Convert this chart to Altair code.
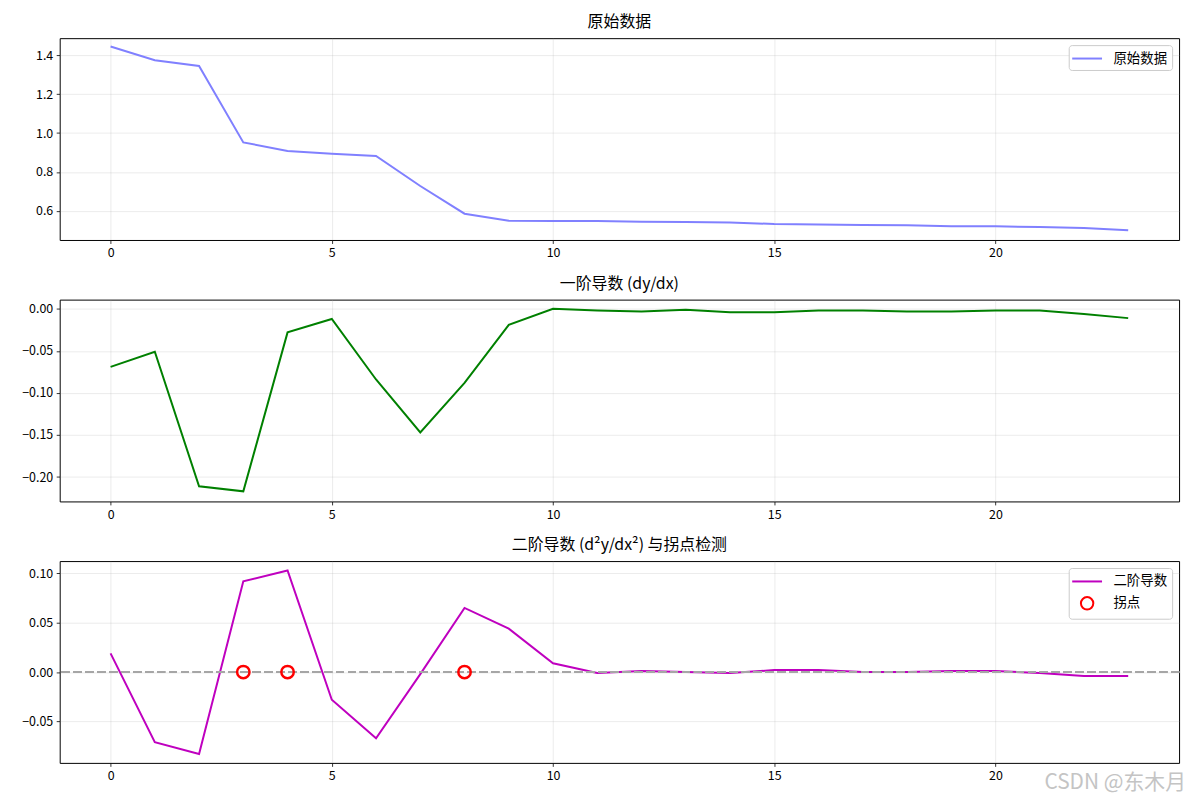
import pandas as pd
import altair as alt

# values
x_idx = [0, 1, 2, 3, 4, 5, 6, 7, 8, 9, 10, 11, 12, 13, 14, 15, 16, 17, 18, 19, 20, 21, 22, 23]
raw_vals = [1.444, 1.374, 1.344, 0.952, 0.908, 0.894, 0.882, 0.728, 0.586, 0.550, 0.549, 0.549,
            0.545, 0.543, 0.541, 0.533, 0.531, 0.528, 0.526, 0.522, 0.521, 0.517, 0.512, 0.501]
d1_vals = [-0.069, -0.051, -0.211, -0.217, -0.028, -0.012, -0.084, -0.147, -0.088, -0.019, 0.000, -0.002,
           -0.003, -0.001, -0.004, -0.004, -0.002, -0.002, -0.003, -0.003, -0.002, -0.002, -0.006, -0.011]
d2_vals = [0.019, -0.071, -0.083, 0.092, 0.103, -0.028, -0.067, -0.002, 0.065, 0.044, 0.009, -0.001,
           0.001, 0.000, -0.001, 0.002, 0.002, 0.000, 0.000, 0.001, 0.001, -0.001, -0.004, -0.004]
infl_x = [3, 4, 8]
infl_y = [0.0, 0.0, 0.0]

titles = ['原始数据', '一阶导数 (dy/dx)', '二阶导数 (d²y/dx²) 与拐点检测']
legend3 = ['二阶导数', '拐点']
x_ticks = [0, 5, 10, 15, 20]
watermark = 'CSDN @东木月'

FONT = 'Noto Sans CJK SC'
W, H = 1126, 203
LINE_SYM = 'M-2,0L2,0'  # legend line sample, 30px at size 225

df = pd.DataFrame({'x': x_idx, 'raw': raw_vals, 'd1': d1_vals, 'd2': d2_vals})
df['s1'] = '原始数据'
pts = pd.DataFrame({'x': infl_x, 'y': infl_y, 'kind': '拐点'})


def xenc():
    return alt.X('x:Q', scale=alt.Scale(domain=[-1.15, 24.15], nice=False, zero=False),
                 axis=alt.Axis(values=x_ticks, format='d', title=None))


def yscale(lo, hi):
    return alt.Scale(domain=[lo, hi], nice=False, zero=False)


#%% panel 1
p1 = alt.Chart(df, title=titles[0]).mark_line(strokeWidth=2).encode(
    x=xenc(),
    y=alt.Y('raw:Q', scale=yscale(0.451, 1.487),
            axis=alt.Axis(values=[0.6, 0.8, 1.0, 1.2, 1.4], format='.1f', title=None)),
    color=alt.Color('s1:N', scale=alt.Scale(domain=['原始数据'], range=['#8080ff']),
                    legend=alt.Legend(title=None, symbolType=LINE_SYM, symbolSize=225))
).properties(width=W, height=H)

#%% panel 2
p2 = alt.Chart(df, title=titles[1]).mark_line(strokeWidth=2, color='#008000').encode(
    x=xenc(),
    y=alt.Y('d1:Q', scale=yscale(-0.229, 0.011),
            axis=alt.Axis(values=[-0.2, -0.15, -0.1, -0.05, 0.0], format='.2f', title=None)),
).properties(width=W, height=H)

#%% panel 3
y3 = yscale(-0.092, 0.1125)
y3_axis = alt.Axis(values=[-0.05, 0.0, 0.05, 0.1], format='.2f', title=None)
line3 = alt.Chart(df).mark_line(strokeWidth=2, color='#bf00bf').encode(
    x=xenc(), y=alt.Y('d2:Q', scale=y3, axis=y3_axis))
zero = alt.Chart(df).mark_rule(color='#a6a6a6', strokeWidth=1.5, strokeDash=[8, 4]).encode(
    y=alt.datum(0))
leg = alt.Legend(title=None)
dots = alt.Chart(pts).mark_point(filled=False, strokeWidth=2.5, opacity=1).encode(
    x=xenc(),
    y=alt.Y('y:Q', scale=y3, axis=y3_axis),
    color=alt.Color('kind:N', scale=alt.Scale(domain=legend3, range=['#bf00bf', '#ff0000']), legend=leg),
    shape=alt.Shape('kind:N', scale=alt.Scale(domain=legend3, range=[LINE_SYM, 'circle']), legend=leg),
    size=alt.Size('kind:N', scale=alt.Scale(domain=legend3, range=[225, 156]), legend=leg),
)
wm = alt.Chart(pd.DataFrame({'t': [watermark]})).mark_text(
    align='right', baseline='middle', font=FONT, fontSize=21, color='#c4c4c4').encode(
    text='t:N', x=alt.value(W + 7), y=alt.value(H + 20))
p3 = alt.layer(line3, zero, dots, wm, title=titles[2]).properties(width=W, height=H)

chart = alt.vconcat(p1, p2, p3, spacing=14).resolve_scale(
    color='independent', shape='independent', size='independent'
).resolve_legend(
    color='independent', shape='independent', size='independent'
).properties(
    padding={'left': 5, 'top': 3, 'right': 5, 'bottom': 5}
).configure_view(
    stroke='black', strokeWidth=1
).configure_axis(
    domain=False, grid=True, gridColor='#b0b0b0', gridOpacity=0.3, gridWidth=0.8,
    tickColor='black', tickSize=3.5, tickWidth=0.8, labelFont=FONT, labelFontSize=12.5,
    labelColor='black', labelPadding=3.5
).configure_axisY(
    minExtent=46, maxExtent=46
).configure_axisX(
    minExtent=20, maxExtent=20, labelFlush=False
).configure_title(
    font=FONT, fontSize=16, fontWeight='normal', color='black', offset=8
).configure_legend(
    orient='top-right', offset=7, fillColor='white', strokeColor='#cccccc', cornerRadius=3,
    padding=5, labelFont=FONT, labelFontSize=13.5, labelColor='black', labelOffset=18,
    symbolOffset=5, rowPadding=5, symbolStrokeWidth=2
)

chart.save('out.html', embed_options={'renderer': 'svg', 'actions': False})
